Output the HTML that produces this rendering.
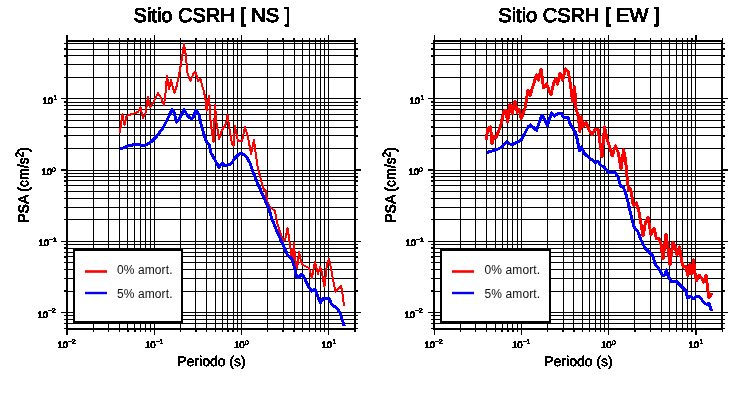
<!DOCTYPE html>
<html><head><meta charset="utf-8"><title>PSA</title>
<style>
html,body{margin:0;padding:0;background:#fff;}
body{width:730px;height:400px;overflow:hidden;}
svg{display:block;}
text{font-family:"Liberation Sans",sans-serif;fill:#000;}
.ti{font-size:20px;stroke:#000;stroke-width:0.7px;text-rendering:geometricPrecision;}
.lb{font-size:14px;stroke:#000;stroke-width:0.25px;text-rendering:geometricPrecision;}
.lg{font-size:12px;fill:#111;letter-spacing:0.1px;}
.lby{font-size:14px;stroke:#000;stroke-width:0.45px;}
.tk{font-size:9.5px;stroke:#000;stroke-width:0.5px;text-rendering:geometricPrecision;}
.sp{font-size:7px;stroke:#000;stroke-width:0.3px;text-rendering:geometricPrecision;}
.sp2{font-size:10px;}
</style></head><body>
<svg width="730" height="400" viewBox="0 0 730 400">
<rect width="730" height="400" fill="#fff"/>
<g shape-rendering="crispEdges">
<rect x="67" y="40" width="1" height="290" fill="#000"/>
<rect x="66" y="35" width="2" height="5" fill="#000"/>
<rect x="66" y="330" width="2" height="5" fill="#000"/>
<rect x="93" y="40" width="1" height="290" fill="#000"/>
<rect x="93" y="38" width="1" height="2" fill="#000"/>
<rect x="93" y="330" width="1" height="2" fill="#000"/>
<rect x="108" y="40" width="1" height="290" fill="#000"/>
<rect x="108" y="38" width="1" height="2" fill="#000"/>
<rect x="108" y="330" width="1" height="2" fill="#000"/>
<rect x="119" y="40" width="1" height="290" fill="#000"/>
<rect x="119" y="38" width="1" height="2" fill="#000"/>
<rect x="119" y="330" width="1" height="2" fill="#000"/>
<rect x="127" y="40" width="1" height="290" fill="#000"/>
<rect x="127" y="38" width="2" height="2" fill="#000"/>
<rect x="127" y="330" width="2" height="2" fill="#000"/>
<rect x="134" y="40" width="1" height="290" fill="#000"/>
<rect x="134" y="38" width="2" height="2" fill="#000"/>
<rect x="134" y="330" width="2" height="2" fill="#000"/>
<rect x="140" y="40" width="1" height="290" fill="#000"/>
<rect x="140" y="38" width="1" height="2" fill="#000"/>
<rect x="140" y="330" width="1" height="2" fill="#000"/>
<rect x="145" y="40" width="1" height="290" fill="#000"/>
<rect x="145" y="38" width="1" height="2" fill="#000"/>
<rect x="145" y="330" width="1" height="2" fill="#000"/>
<rect x="150" y="40" width="1" height="290" fill="#000"/>
<rect x="150" y="38" width="1" height="2" fill="#000"/>
<rect x="150" y="330" width="1" height="2" fill="#000"/>
<rect x="154" y="40" width="1" height="290" fill="#000"/>
<rect x="154" y="35" width="1" height="5" fill="#000"/>
<rect x="154" y="330" width="1" height="5" fill="#000"/>
<rect x="180" y="40" width="1" height="290" fill="#000"/>
<rect x="180" y="38" width="1" height="2" fill="#000"/>
<rect x="180" y="330" width="1" height="2" fill="#000"/>
<rect x="195" y="40" width="1" height="290" fill="#000"/>
<rect x="195" y="38" width="2" height="2" fill="#000"/>
<rect x="195" y="330" width="2" height="2" fill="#000"/>
<rect x="206" y="40" width="1" height="290" fill="#000"/>
<rect x="206" y="38" width="1" height="2" fill="#000"/>
<rect x="206" y="330" width="1" height="2" fill="#000"/>
<rect x="215" y="40" width="1" height="290" fill="#000"/>
<rect x="215" y="38" width="1" height="2" fill="#000"/>
<rect x="215" y="330" width="1" height="2" fill="#000"/>
<rect x="222" y="40" width="1" height="290" fill="#000"/>
<rect x="222" y="38" width="1" height="2" fill="#000"/>
<rect x="222" y="330" width="1" height="2" fill="#000"/>
<rect x="227" y="40" width="1" height="290" fill="#000"/>
<rect x="227" y="38" width="2" height="2" fill="#000"/>
<rect x="227" y="330" width="2" height="2" fill="#000"/>
<rect x="233" y="40" width="1" height="290" fill="#000"/>
<rect x="232" y="38" width="2" height="2" fill="#000"/>
<rect x="232" y="330" width="2" height="2" fill="#000"/>
<rect x="237" y="40" width="1" height="290" fill="#000"/>
<rect x="237" y="38" width="1" height="2" fill="#000"/>
<rect x="237" y="330" width="1" height="2" fill="#000"/>
<rect x="241" y="40" width="1" height="290" fill="#000"/>
<rect x="241" y="35" width="1" height="5" fill="#000"/>
<rect x="241" y="330" width="1" height="5" fill="#000"/>
<rect x="267" y="40" width="1" height="290" fill="#000"/>
<rect x="267" y="38" width="1" height="2" fill="#000"/>
<rect x="267" y="330" width="1" height="2" fill="#000"/>
<rect x="283" y="40" width="1" height="290" fill="#000"/>
<rect x="282" y="38" width="2" height="2" fill="#000"/>
<rect x="282" y="330" width="2" height="2" fill="#000"/>
<rect x="294" y="40" width="1" height="290" fill="#000"/>
<rect x="293" y="38" width="2" height="2" fill="#000"/>
<rect x="293" y="330" width="2" height="2" fill="#000"/>
<rect x="302" y="40" width="1" height="290" fill="#000"/>
<rect x="302" y="38" width="1" height="2" fill="#000"/>
<rect x="302" y="330" width="1" height="2" fill="#000"/>
<rect x="309" y="40" width="1" height="290" fill="#000"/>
<rect x="309" y="38" width="1" height="2" fill="#000"/>
<rect x="309" y="330" width="1" height="2" fill="#000"/>
<rect x="315" y="40" width="1" height="290" fill="#000"/>
<rect x="315" y="38" width="1" height="2" fill="#000"/>
<rect x="315" y="330" width="1" height="2" fill="#000"/>
<rect x="320" y="40" width="1" height="290" fill="#000"/>
<rect x="320" y="38" width="1" height="2" fill="#000"/>
<rect x="320" y="330" width="1" height="2" fill="#000"/>
<rect x="324" y="40" width="1" height="290" fill="#000"/>
<rect x="324" y="38" width="1" height="2" fill="#000"/>
<rect x="324" y="330" width="1" height="2" fill="#000"/>
<rect x="328" y="40" width="1" height="290" fill="#000"/>
<rect x="328" y="35" width="1" height="5" fill="#000"/>
<rect x="328" y="330" width="1" height="5" fill="#000"/>
<rect x="355" y="40" width="1" height="290" fill="#000"/>
<rect x="354" y="38" width="2" height="2" fill="#000"/>
<rect x="354" y="330" width="2" height="2" fill="#000"/>
<rect x="66" y="43" width="290" height="1" fill="#000"/>
<rect x="64" y="43" width="2" height="1" fill="#000"/>
<rect x="356" y="43" width="2" height="1" fill="#000"/>
<rect x="66" y="49" width="290" height="1" fill="#000"/>
<rect x="64" y="48" width="2" height="2" fill="#000"/>
<rect x="356" y="48" width="2" height="2" fill="#000"/>
<rect x="66" y="55" width="290" height="1" fill="#000"/>
<rect x="64" y="55" width="2" height="2" fill="#000"/>
<rect x="356" y="55" width="2" height="2" fill="#000"/>
<rect x="66" y="64" width="290" height="1" fill="#000"/>
<rect x="64" y="64" width="2" height="1" fill="#000"/>
<rect x="356" y="64" width="2" height="1" fill="#000"/>
<rect x="66" y="77" width="290" height="1" fill="#000"/>
<rect x="64" y="77" width="2" height="1" fill="#000"/>
<rect x="356" y="77" width="2" height="1" fill="#000"/>
<rect x="66" y="98" width="290" height="1" fill="#000"/>
<rect x="61" y="98" width="5" height="1" fill="#000"/>
<rect x="356" y="98" width="5" height="1" fill="#000"/>
<rect x="66" y="102" width="290" height="1" fill="#000"/>
<rect x="64" y="101" width="2" height="2" fill="#000"/>
<rect x="356" y="101" width="2" height="2" fill="#000"/>
<rect x="66" y="105" width="290" height="1" fill="#000"/>
<rect x="64" y="105" width="2" height="1" fill="#000"/>
<rect x="356" y="105" width="2" height="1" fill="#000"/>
<rect x="66" y="109" width="290" height="1" fill="#000"/>
<rect x="64" y="109" width="2" height="1" fill="#000"/>
<rect x="356" y="109" width="2" height="1" fill="#000"/>
<rect x="66" y="114" width="290" height="1" fill="#000"/>
<rect x="64" y="114" width="2" height="1" fill="#000"/>
<rect x="356" y="114" width="2" height="1" fill="#000"/>
<rect x="66" y="120" width="290" height="1" fill="#000"/>
<rect x="64" y="120" width="2" height="1" fill="#000"/>
<rect x="356" y="120" width="2" height="1" fill="#000"/>
<rect x="66" y="127" width="290" height="1" fill="#000"/>
<rect x="64" y="126" width="2" height="2" fill="#000"/>
<rect x="356" y="126" width="2" height="2" fill="#000"/>
<rect x="66" y="135" width="290" height="1" fill="#000"/>
<rect x="64" y="135" width="2" height="2" fill="#000"/>
<rect x="356" y="135" width="2" height="2" fill="#000"/>
<rect x="66" y="148" width="290" height="1" fill="#000"/>
<rect x="64" y="148" width="2" height="1" fill="#000"/>
<rect x="356" y="148" width="2" height="1" fill="#000"/>
<rect x="66" y="170" width="290" height="1" fill="#000"/>
<rect x="61" y="169" width="5" height="2" fill="#000"/>
<rect x="356" y="169" width="5" height="2" fill="#000"/>
<rect x="66" y="173" width="290" height="1" fill="#000"/>
<rect x="64" y="173" width="2" height="1" fill="#000"/>
<rect x="356" y="173" width="2" height="1" fill="#000"/>
<rect x="66" y="176" width="290" height="1" fill="#000"/>
<rect x="64" y="176" width="2" height="2" fill="#000"/>
<rect x="356" y="176" width="2" height="2" fill="#000"/>
<rect x="66" y="180" width="290" height="1" fill="#000"/>
<rect x="64" y="180" width="2" height="2" fill="#000"/>
<rect x="356" y="180" width="2" height="2" fill="#000"/>
<rect x="66" y="185" width="290" height="1" fill="#000"/>
<rect x="64" y="185" width="2" height="1" fill="#000"/>
<rect x="356" y="185" width="2" height="1" fill="#000"/>
<rect x="66" y="191" width="290" height="1" fill="#000"/>
<rect x="64" y="191" width="2" height="1" fill="#000"/>
<rect x="356" y="191" width="2" height="1" fill="#000"/>
<rect x="66" y="198" width="290" height="1" fill="#000"/>
<rect x="64" y="198" width="2" height="1" fill="#000"/>
<rect x="356" y="198" width="2" height="1" fill="#000"/>
<rect x="66" y="207" width="290" height="1" fill="#000"/>
<rect x="64" y="207" width="2" height="1" fill="#000"/>
<rect x="356" y="207" width="2" height="1" fill="#000"/>
<rect x="66" y="219" width="290" height="1" fill="#000"/>
<rect x="64" y="219" width="2" height="1" fill="#000"/>
<rect x="356" y="219" width="2" height="1" fill="#000"/>
<rect x="66" y="241" width="290" height="1" fill="#000"/>
<rect x="61" y="241" width="5" height="1" fill="#000"/>
<rect x="356" y="241" width="5" height="1" fill="#000"/>
<rect x="66" y="244" width="290" height="1" fill="#000"/>
<rect x="64" y="244" width="2" height="1" fill="#000"/>
<rect x="356" y="244" width="2" height="1" fill="#000"/>
<rect x="66" y="248" width="290" height="1" fill="#000"/>
<rect x="64" y="247" width="2" height="2" fill="#000"/>
<rect x="356" y="247" width="2" height="2" fill="#000"/>
<rect x="66" y="252" width="290" height="1" fill="#000"/>
<rect x="64" y="252" width="2" height="1" fill="#000"/>
<rect x="356" y="252" width="2" height="1" fill="#000"/>
<rect x="66" y="256" width="290" height="1" fill="#000"/>
<rect x="64" y="256" width="2" height="2" fill="#000"/>
<rect x="356" y="256" width="2" height="2" fill="#000"/>
<rect x="66" y="262" width="290" height="1" fill="#000"/>
<rect x="64" y="262" width="2" height="1" fill="#000"/>
<rect x="356" y="262" width="2" height="1" fill="#000"/>
<rect x="66" y="269" width="290" height="1" fill="#000"/>
<rect x="64" y="269" width="2" height="1" fill="#000"/>
<rect x="356" y="269" width="2" height="1" fill="#000"/>
<rect x="66" y="278" width="290" height="1" fill="#000"/>
<rect x="64" y="278" width="2" height="1" fill="#000"/>
<rect x="356" y="278" width="2" height="1" fill="#000"/>
<rect x="66" y="291" width="290" height="1" fill="#000"/>
<rect x="64" y="290" width="2" height="2" fill="#000"/>
<rect x="356" y="290" width="2" height="2" fill="#000"/>
<rect x="66" y="312" width="290" height="1" fill="#000"/>
<rect x="61" y="312" width="5" height="1" fill="#000"/>
<rect x="356" y="312" width="5" height="1" fill="#000"/>
<rect x="66" y="315" width="290" height="1" fill="#000"/>
<rect x="64" y="315" width="2" height="1" fill="#000"/>
<rect x="356" y="315" width="2" height="1" fill="#000"/>
<rect x="66" y="319" width="290" height="1" fill="#000"/>
<rect x="64" y="319" width="2" height="1" fill="#000"/>
<rect x="356" y="319" width="2" height="1" fill="#000"/>
<rect x="66" y="323" width="290" height="1" fill="#000"/>
<rect x="64" y="323" width="2" height="1" fill="#000"/>
<rect x="356" y="323" width="2" height="1" fill="#000"/>
<rect x="66" y="328" width="290" height="1" fill="#000"/>
<rect x="64" y="328" width="2" height="1" fill="#000"/>
<rect x="356" y="328" width="2" height="1" fill="#000"/>
<rect x="66" y="40" width="290" height="2" fill="#000"/>
<rect x="66" y="328" width="290" height="2" fill="#000"/>
<rect x="66" y="40" width="2" height="290" fill="#000"/>
<rect x="354" y="40" width="2" height="290" fill="#000"/>
<polyline points="120,133 121,123 122.4,114 124.4,125 126.6,116 129,115 134,113.5 138,112 140.4,107 143,118 145.6,113 148,97 150,107 153,103 158,93 161,98 164,105.5 165.6,92 167,76 169,89 171,80 174.4,93 177,85 181,64 184,44 185.6,54 187.6,74 190.4,81 193.6,73 195.6,72 198,81 200.4,79 204,92 205.6,100 206.6,111 209,95.5 210.5,120 212,133 213.6,142 215,105 216.4,122 219,139 222,130 226,124 227.6,115 229.6,130 232,144 233.6,146 235,126 238,141 242,141 245,127 248,137 251,154 254,140 256,156 258,169 261,180 264,190 265.6,190 267,201 270,207 275,211 277,222 280,232 283,241 285,240 287.6,228 289,238 291,252 292.2,262 294,243 295,258 297,268.5 299.2,252 301,262 303,265 309,268 312,278 315,261.5 318,274 320,267 322,273 324.4,287 327,264 329,259 331,268 333,280 335.6,292 339,288 341,286 342.4,293 344,305.6" fill="none" stroke="#f00" stroke-width="2" stroke-linejoin="round" stroke-linecap="butt"/>
<polyline points="120,148.6 123,148 128,146 135,144.4 140,145 146,145 151,142 157,136 163,128 168,118 172,109.6 174,112 176.6,122 180,118 184,109 187,115 190,118 193,118 196,110 199,115 202,128 206,141 209,144.5 211,153 215,160 219,167.5 222,163 225,166 231,164 235,158 239,154 242,153.5 246,156 250,163 253,172 257,182 261,191 265,200 269,209 272,219 276,229 280,238 284,247 287,254 289,257 291.6,258 294,266 297,278 299,277 302,274 305,279 308,286 311.6,291 315,289 318,297 320.4,303 323,298.6 329,298.6 332,305 337,308 340,313 342.4,320 344.2,326" fill="none" stroke="#00f" stroke-width="3" stroke-linejoin="round" stroke-linecap="butt"/>
<rect x="73" y="249" width="110" height="74" fill="#000"/>
<rect x="75" y="251" width="106" height="70" fill="#fff"/>
<rect x="434" y="40" width="1" height="290" fill="#000"/>
<rect x="434" y="35" width="1" height="5" fill="#000"/>
<rect x="434" y="330" width="1" height="5" fill="#000"/>
<rect x="460" y="40" width="1" height="290" fill="#000"/>
<rect x="460" y="38" width="1" height="2" fill="#000"/>
<rect x="460" y="330" width="1" height="2" fill="#000"/>
<rect x="475" y="40" width="1" height="290" fill="#000"/>
<rect x="475" y="38" width="1" height="2" fill="#000"/>
<rect x="475" y="330" width="1" height="2" fill="#000"/>
<rect x="486" y="40" width="1" height="290" fill="#000"/>
<rect x="486" y="38" width="1" height="2" fill="#000"/>
<rect x="486" y="330" width="1" height="2" fill="#000"/>
<rect x="495" y="40" width="1" height="290" fill="#000"/>
<rect x="495" y="38" width="1" height="2" fill="#000"/>
<rect x="495" y="330" width="1" height="2" fill="#000"/>
<rect x="502" y="40" width="1" height="290" fill="#000"/>
<rect x="501" y="38" width="2" height="2" fill="#000"/>
<rect x="501" y="330" width="2" height="2" fill="#000"/>
<rect x="507" y="40" width="1" height="290" fill="#000"/>
<rect x="507" y="38" width="2" height="2" fill="#000"/>
<rect x="507" y="330" width="2" height="2" fill="#000"/>
<rect x="512" y="40" width="1" height="290" fill="#000"/>
<rect x="512" y="38" width="2" height="2" fill="#000"/>
<rect x="512" y="330" width="2" height="2" fill="#000"/>
<rect x="517" y="40" width="1" height="290" fill="#000"/>
<rect x="517" y="38" width="1" height="2" fill="#000"/>
<rect x="517" y="330" width="1" height="2" fill="#000"/>
<rect x="521" y="40" width="1" height="290" fill="#000"/>
<rect x="521" y="35" width="1" height="5" fill="#000"/>
<rect x="521" y="330" width="1" height="5" fill="#000"/>
<rect x="547" y="40" width="1" height="290" fill="#000"/>
<rect x="547" y="38" width="1" height="2" fill="#000"/>
<rect x="547" y="330" width="1" height="2" fill="#000"/>
<rect x="563" y="40" width="1" height="290" fill="#000"/>
<rect x="562" y="38" width="2" height="2" fill="#000"/>
<rect x="562" y="330" width="2" height="2" fill="#000"/>
<rect x="573" y="40" width="1" height="290" fill="#000"/>
<rect x="573" y="38" width="2" height="2" fill="#000"/>
<rect x="573" y="330" width="2" height="2" fill="#000"/>
<rect x="582" y="40" width="1" height="290" fill="#000"/>
<rect x="582" y="38" width="1" height="2" fill="#000"/>
<rect x="582" y="330" width="1" height="2" fill="#000"/>
<rect x="589" y="40" width="1" height="290" fill="#000"/>
<rect x="589" y="38" width="1" height="2" fill="#000"/>
<rect x="589" y="330" width="1" height="2" fill="#000"/>
<rect x="595" y="40" width="1" height="290" fill="#000"/>
<rect x="595" y="38" width="1" height="2" fill="#000"/>
<rect x="595" y="330" width="1" height="2" fill="#000"/>
<rect x="600" y="40" width="1" height="290" fill="#000"/>
<rect x="600" y="38" width="1" height="2" fill="#000"/>
<rect x="600" y="330" width="1" height="2" fill="#000"/>
<rect x="604" y="40" width="1" height="290" fill="#000"/>
<rect x="604" y="38" width="1" height="2" fill="#000"/>
<rect x="604" y="330" width="1" height="2" fill="#000"/>
<rect x="608" y="40" width="1" height="290" fill="#000"/>
<rect x="608" y="35" width="1" height="5" fill="#000"/>
<rect x="608" y="330" width="1" height="5" fill="#000"/>
<rect x="634" y="40" width="1" height="290" fill="#000"/>
<rect x="634" y="38" width="2" height="2" fill="#000"/>
<rect x="634" y="330" width="2" height="2" fill="#000"/>
<rect x="650" y="40" width="1" height="290" fill="#000"/>
<rect x="650" y="38" width="1" height="2" fill="#000"/>
<rect x="650" y="330" width="1" height="2" fill="#000"/>
<rect x="661" y="40" width="1" height="290" fill="#000"/>
<rect x="661" y="38" width="1" height="2" fill="#000"/>
<rect x="661" y="330" width="1" height="2" fill="#000"/>
<rect x="669" y="40" width="1" height="290" fill="#000"/>
<rect x="669" y="38" width="1" height="2" fill="#000"/>
<rect x="669" y="330" width="1" height="2" fill="#000"/>
<rect x="676" y="40" width="1" height="290" fill="#000"/>
<rect x="676" y="38" width="1" height="2" fill="#000"/>
<rect x="676" y="330" width="1" height="2" fill="#000"/>
<rect x="682" y="40" width="1" height="290" fill="#000"/>
<rect x="682" y="38" width="1" height="2" fill="#000"/>
<rect x="682" y="330" width="1" height="2" fill="#000"/>
<rect x="687" y="40" width="1" height="290" fill="#000"/>
<rect x="687" y="38" width="1" height="2" fill="#000"/>
<rect x="687" y="330" width="1" height="2" fill="#000"/>
<rect x="691" y="40" width="1" height="290" fill="#000"/>
<rect x="691" y="38" width="2" height="2" fill="#000"/>
<rect x="691" y="330" width="2" height="2" fill="#000"/>
<rect x="695" y="40" width="1" height="290" fill="#000"/>
<rect x="695" y="35" width="2" height="5" fill="#000"/>
<rect x="695" y="330" width="2" height="5" fill="#000"/>
<rect x="722" y="40" width="1" height="290" fill="#000"/>
<rect x="722" y="38" width="1" height="2" fill="#000"/>
<rect x="722" y="330" width="1" height="2" fill="#000"/>
<rect x="433" y="43" width="290" height="1" fill="#000"/>
<rect x="431" y="43" width="2" height="1" fill="#000"/>
<rect x="723" y="43" width="2" height="1" fill="#000"/>
<rect x="433" y="49" width="290" height="1" fill="#000"/>
<rect x="431" y="48" width="2" height="2" fill="#000"/>
<rect x="723" y="48" width="2" height="2" fill="#000"/>
<rect x="433" y="55" width="290" height="1" fill="#000"/>
<rect x="431" y="55" width="2" height="2" fill="#000"/>
<rect x="723" y="55" width="2" height="2" fill="#000"/>
<rect x="433" y="64" width="290" height="1" fill="#000"/>
<rect x="431" y="64" width="2" height="1" fill="#000"/>
<rect x="723" y="64" width="2" height="1" fill="#000"/>
<rect x="433" y="77" width="290" height="1" fill="#000"/>
<rect x="431" y="77" width="2" height="1" fill="#000"/>
<rect x="723" y="77" width="2" height="1" fill="#000"/>
<rect x="433" y="98" width="290" height="1" fill="#000"/>
<rect x="428" y="98" width="5" height="1" fill="#000"/>
<rect x="723" y="98" width="5" height="1" fill="#000"/>
<rect x="433" y="102" width="290" height="1" fill="#000"/>
<rect x="431" y="101" width="2" height="2" fill="#000"/>
<rect x="723" y="101" width="2" height="2" fill="#000"/>
<rect x="433" y="105" width="290" height="1" fill="#000"/>
<rect x="431" y="105" width="2" height="1" fill="#000"/>
<rect x="723" y="105" width="2" height="1" fill="#000"/>
<rect x="433" y="109" width="290" height="1" fill="#000"/>
<rect x="431" y="109" width="2" height="1" fill="#000"/>
<rect x="723" y="109" width="2" height="1" fill="#000"/>
<rect x="433" y="114" width="290" height="1" fill="#000"/>
<rect x="431" y="114" width="2" height="1" fill="#000"/>
<rect x="723" y="114" width="2" height="1" fill="#000"/>
<rect x="433" y="120" width="290" height="1" fill="#000"/>
<rect x="431" y="120" width="2" height="1" fill="#000"/>
<rect x="723" y="120" width="2" height="1" fill="#000"/>
<rect x="433" y="127" width="290" height="1" fill="#000"/>
<rect x="431" y="126" width="2" height="2" fill="#000"/>
<rect x="723" y="126" width="2" height="2" fill="#000"/>
<rect x="433" y="135" width="290" height="1" fill="#000"/>
<rect x="431" y="135" width="2" height="2" fill="#000"/>
<rect x="723" y="135" width="2" height="2" fill="#000"/>
<rect x="433" y="148" width="290" height="1" fill="#000"/>
<rect x="431" y="148" width="2" height="1" fill="#000"/>
<rect x="723" y="148" width="2" height="1" fill="#000"/>
<rect x="433" y="170" width="290" height="1" fill="#000"/>
<rect x="428" y="169" width="5" height="2" fill="#000"/>
<rect x="723" y="169" width="5" height="2" fill="#000"/>
<rect x="433" y="173" width="290" height="1" fill="#000"/>
<rect x="431" y="173" width="2" height="1" fill="#000"/>
<rect x="723" y="173" width="2" height="1" fill="#000"/>
<rect x="433" y="176" width="290" height="1" fill="#000"/>
<rect x="431" y="176" width="2" height="2" fill="#000"/>
<rect x="723" y="176" width="2" height="2" fill="#000"/>
<rect x="433" y="180" width="290" height="1" fill="#000"/>
<rect x="431" y="180" width="2" height="2" fill="#000"/>
<rect x="723" y="180" width="2" height="2" fill="#000"/>
<rect x="433" y="185" width="290" height="1" fill="#000"/>
<rect x="431" y="185" width="2" height="1" fill="#000"/>
<rect x="723" y="185" width="2" height="1" fill="#000"/>
<rect x="433" y="191" width="290" height="1" fill="#000"/>
<rect x="431" y="191" width="2" height="1" fill="#000"/>
<rect x="723" y="191" width="2" height="1" fill="#000"/>
<rect x="433" y="198" width="290" height="1" fill="#000"/>
<rect x="431" y="198" width="2" height="1" fill="#000"/>
<rect x="723" y="198" width="2" height="1" fill="#000"/>
<rect x="433" y="207" width="290" height="1" fill="#000"/>
<rect x="431" y="207" width="2" height="1" fill="#000"/>
<rect x="723" y="207" width="2" height="1" fill="#000"/>
<rect x="433" y="219" width="290" height="1" fill="#000"/>
<rect x="431" y="219" width="2" height="1" fill="#000"/>
<rect x="723" y="219" width="2" height="1" fill="#000"/>
<rect x="433" y="241" width="290" height="1" fill="#000"/>
<rect x="428" y="241" width="5" height="1" fill="#000"/>
<rect x="723" y="241" width="5" height="1" fill="#000"/>
<rect x="433" y="244" width="290" height="1" fill="#000"/>
<rect x="431" y="244" width="2" height="1" fill="#000"/>
<rect x="723" y="244" width="2" height="1" fill="#000"/>
<rect x="433" y="248" width="290" height="1" fill="#000"/>
<rect x="431" y="247" width="2" height="2" fill="#000"/>
<rect x="723" y="247" width="2" height="2" fill="#000"/>
<rect x="433" y="252" width="290" height="1" fill="#000"/>
<rect x="431" y="252" width="2" height="1" fill="#000"/>
<rect x="723" y="252" width="2" height="1" fill="#000"/>
<rect x="433" y="256" width="290" height="1" fill="#000"/>
<rect x="431" y="256" width="2" height="2" fill="#000"/>
<rect x="723" y="256" width="2" height="2" fill="#000"/>
<rect x="433" y="262" width="290" height="1" fill="#000"/>
<rect x="431" y="262" width="2" height="1" fill="#000"/>
<rect x="723" y="262" width="2" height="1" fill="#000"/>
<rect x="433" y="269" width="290" height="1" fill="#000"/>
<rect x="431" y="269" width="2" height="1" fill="#000"/>
<rect x="723" y="269" width="2" height="1" fill="#000"/>
<rect x="433" y="278" width="290" height="1" fill="#000"/>
<rect x="431" y="278" width="2" height="1" fill="#000"/>
<rect x="723" y="278" width="2" height="1" fill="#000"/>
<rect x="433" y="291" width="290" height="1" fill="#000"/>
<rect x="431" y="290" width="2" height="2" fill="#000"/>
<rect x="723" y="290" width="2" height="2" fill="#000"/>
<rect x="433" y="312" width="290" height="1" fill="#000"/>
<rect x="428" y="312" width="5" height="1" fill="#000"/>
<rect x="723" y="312" width="5" height="1" fill="#000"/>
<rect x="433" y="315" width="290" height="1" fill="#000"/>
<rect x="431" y="315" width="2" height="1" fill="#000"/>
<rect x="723" y="315" width="2" height="1" fill="#000"/>
<rect x="433" y="319" width="290" height="1" fill="#000"/>
<rect x="431" y="319" width="2" height="1" fill="#000"/>
<rect x="723" y="319" width="2" height="1" fill="#000"/>
<rect x="433" y="323" width="290" height="1" fill="#000"/>
<rect x="431" y="323" width="2" height="1" fill="#000"/>
<rect x="723" y="323" width="2" height="1" fill="#000"/>
<rect x="433" y="328" width="290" height="1" fill="#000"/>
<rect x="431" y="328" width="2" height="1" fill="#000"/>
<rect x="723" y="328" width="2" height="1" fill="#000"/>
<rect x="433" y="40" width="290" height="2" fill="#000"/>
<rect x="433" y="328" width="290" height="2" fill="#000"/>
<rect x="433" y="40" width="2" height="290" fill="#000"/>
<rect x="721" y="40" width="2" height="290" fill="#000"/>
<polyline points="486,140 488,128 490.6,127 492,144 494,136 496,138 498.6,131 501,124 504,111 506,110 507.6,122 510,104 512.2,114 515,101 517.3,112.5 519.3,109.5 521.2,118.5 525,108 528,90 530,96 533,86 536.4,75 538.6,80 541,69 543.6,88 546.6,84 549,90 551,94.4 553.4,84 555.4,79 557.4,84 560,73 562.6,80 565.4,69 568.4,72 570.6,86 572.6,102 574.6,87 576,108 578.4,117 579.8,131.5 581.4,117 583,127 586,122 589,130 592,135 595,129 598,129 600,143 602,157 604.5,127 607,139 610,148 612.2,156 615.3,146 618.2,152.5 621,169 623.6,150 625.6,160 627,176 628.4,190 630.4,189 631.6,194 633,204 634,206 636.4,203 639,212 641,224 643,236 645.6,222 648,217 651,235 654,228 656.4,239 659,238 661,245 663,259 666,234 668,248 670,265 673,242 675,246 677,255 679.6,247 681.6,261 683.4,267 686,266 687.8,275.5 690,264 691.6,274 693.6,260 695,273.5 696.4,281 699,275 701.6,278 703.6,282 706,275 707.6,288 709,298 712,293" fill="none" stroke="#f00" stroke-width="3" stroke-linejoin="round" stroke-linecap="butt"/>
<polyline points="487,152.4 492,151 497,149.6 502,147 506.6,142 510,144 513,144.4 517,142.4 521.4,139.6 525,133 528,127 530.6,125 534,128 536.6,130.4 539,123 542,115 545,120 547.4,125.6 551.4,113 554.6,116 558,113.3 561.5,113.5 563.6,117.3 568,117.6 570.6,125 573,129 575.4,132 577.4,140 579.4,151 581.4,147 584,153 587,156 591,159 595.4,163 598,161 600.2,165 604,167 608,172 615,172 618,177 621,187 623,186.4 625.6,193 628,202 630,211 632,219 634,227 637.6,231 641,240 645,248 649,252 653,256 655,264 659,269 663,276 665,275 666.4,270 668.4,277 672,282 676,281 680,285 683,288 686,291 687.6,298 691,296.4 694,299 696,296.4 700,297 704,303 707,304.4 709,303 710.4,308 712,311" fill="none" stroke="#00f" stroke-width="3" stroke-linejoin="round" stroke-linecap="butt"/>
<rect x="440" y="249" width="111" height="74" fill="#000"/>
<rect x="442" y="251" width="107" height="70" fill="#fff"/>
</g>
<defs>
<filter id="th" x="-5%" y="-20%" width="110%" height="140%" color-interpolation-filters="sRGB"><feComponentTransfer><feFuncA type="discrete" tableValues="0 1 1 1 1 1"/></feComponentTransfer></filter>
<filter id="th3" x="-5%" y="-20%" width="110%" height="140%" color-interpolation-filters="sRGB"><feComponentTransfer><feFuncA type="discrete" tableValues="0 1 1"/></feComponentTransfer></filter>
<filter id="aa" x="-5%" y="-20%" width="110%" height="140%" color-interpolation-filters="sRGB"><feComponentTransfer><feFuncA type="linear" slope="1"/></feComponentTransfer></filter>
</defs>
<g>
<rect x="85" y="270.2" width="22" height="2.6" fill="#f00"/><rect x="85" y="291.8" width="22" height="2.4" fill="#00f"/>
<text x="117" y="274" class="lg" filter="url(#aa)">0% amort.</text>
<text x="117" y="298" class="lg" filter="url(#aa)">5% amort.</text>
<text x="211.9" y="22" class="ti" text-anchor="middle" filter="url(#th3)">Sitio CSRH [ NS ]</text>
<text x="211.5" y="366" class="lb" text-anchor="middle" filter="url(#th3)">Periodo (s)</text>
<text transform="translate(28.5,185) rotate(-90)" class="lby" text-anchor="middle" filter="url(#th3)">PSA (cm/s<tspan class="sp2" dy="-5">2</tspan><tspan dy="5">)</tspan></text>
<text x="57.40" y="347.80" class="tk" filter="url(#th3)">10</text>
<text x="67.75" y="343.80" class="sp" filter="url(#th3)">−2</text>
<text x="145.05" y="347.80" class="tk" filter="url(#th3)">10</text>
<text x="155.40" y="343.80" class="sp" filter="url(#th3)">−1</text>
<text x="234.05" y="347.80" class="tk" filter="url(#th3)">10</text>
<text x="245.10" y="344.80" class="sp" filter="url(#th3)">0</text>
<text x="321.40" y="347.80" class="tk" filter="url(#th3)">10</text>
<text x="332.40" y="343.80" class="sp" filter="url(#th3)">1</text>
<text x="37.40" y="317.80" class="tk" filter="url(#th3)">10</text>
<text x="47.75" y="312.80" class="sp" filter="url(#th3)">−2</text>
<text x="38.40" y="245.80" class="tk" filter="url(#th3)">10</text>
<text x="48.75" y="241.80" class="sp" filter="url(#th3)">−1</text>
<text x="41.40" y="174.80" class="tk" filter="url(#th3)">10</text>
<text x="52.10" y="171.80" class="sp" filter="url(#th3)">0</text>
<text x="42.40" y="103.80" class="tk" filter="url(#th3)">10</text>
<text x="53.40" y="99.80" class="sp" filter="url(#th3)">1</text>
<rect x="452" y="270.2" width="22" height="2.6" fill="#f00"/><rect x="452" y="291.8" width="22" height="2.4" fill="#00f"/>
<text x="484.6" y="274" class="lg" filter="url(#aa)">0% amort.</text>
<text x="484.6" y="298" class="lg" filter="url(#aa)">5% amort.</text>
<text x="578.9" y="22" class="ti" text-anchor="middle" filter="url(#th3)">Sitio CSRH [ EW ]</text>
<text x="578.5" y="366" class="lb" text-anchor="middle" filter="url(#th3)">Periodo (s)</text>
<text transform="translate(395.5,185) rotate(-90)" class="lby" text-anchor="middle" filter="url(#th3)">PSA (cm/s<tspan class="sp2" dy="-5">2</tspan><tspan dy="5">)</tspan></text>
<text x="424.40" y="347.80" class="tk" filter="url(#th3)">10</text>
<text x="434.75" y="343.80" class="sp" filter="url(#th3)">−2</text>
<text x="512.05" y="347.80" class="tk" filter="url(#th3)">10</text>
<text x="522.40" y="343.80" class="sp" filter="url(#th3)">−1</text>
<text x="601.05" y="347.80" class="tk" filter="url(#th3)">10</text>
<text x="612.10" y="344.80" class="sp" filter="url(#th3)">0</text>
<text x="688.40" y="347.80" class="tk" filter="url(#th3)">10</text>
<text x="699.40" y="343.80" class="sp" filter="url(#th3)">1</text>
<text x="404.40" y="317.80" class="tk" filter="url(#th3)">10</text>
<text x="414.75" y="312.80" class="sp" filter="url(#th3)">−2</text>
<text x="405.40" y="245.80" class="tk" filter="url(#th3)">10</text>
<text x="415.75" y="241.80" class="sp" filter="url(#th3)">−1</text>
<text x="408.40" y="174.80" class="tk" filter="url(#th3)">10</text>
<text x="419.10" y="171.80" class="sp" filter="url(#th3)">0</text>
<text x="409.40" y="103.80" class="tk" filter="url(#th3)">10</text>
<text x="420.40" y="99.80" class="sp" filter="url(#th3)">1</text>
</g>
</svg>
</body></html>
